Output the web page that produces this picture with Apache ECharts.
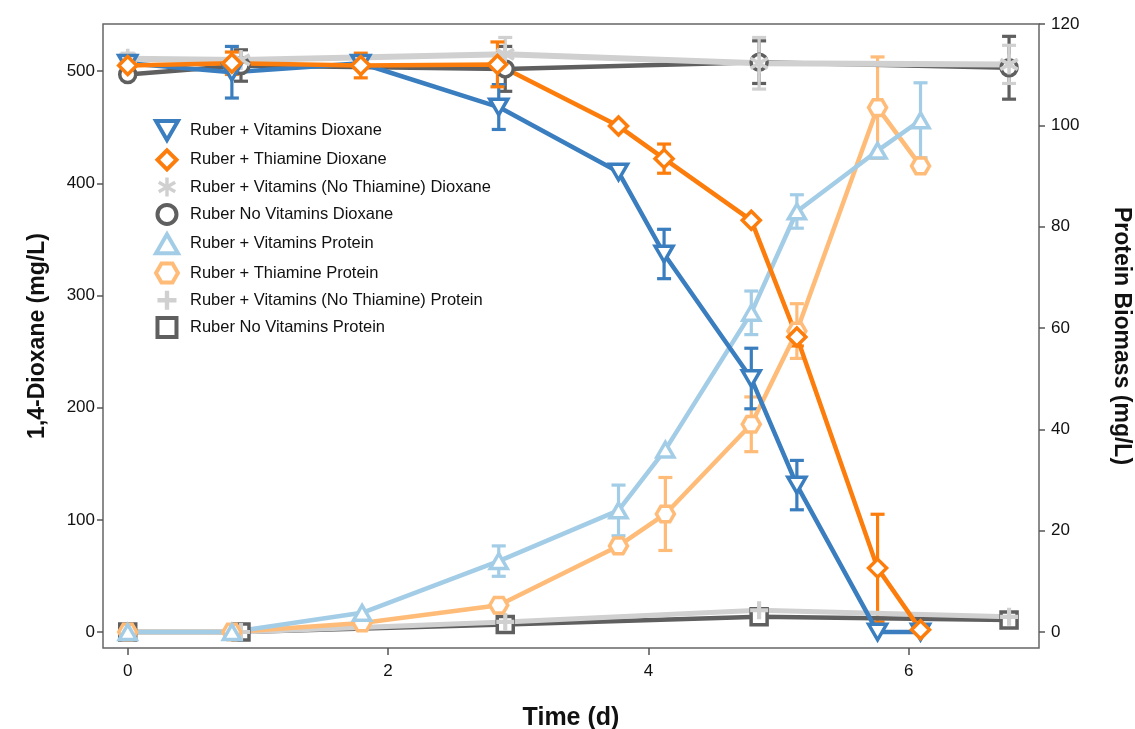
<!DOCTYPE html>
<html><head><meta charset="utf-8">
<script src="https://cdn.jsdelivr.net/npm/echarts@6/dist/echarts.min.js"></script>
<style>html,body{margin:0;padding:0;background:#fff}#c{width:1135px;height:729px}</style>
</head><body><div id="c"></div><script>
// ---- data ----
const names = [
  'Ruber + Vitamins Dioxane',
  'Ruber + Thiamine Dioxane',
  'Ruber + Vitamins (No Thiamine) Dioxane',
  'Ruber No Vitamins Dioxane',
  'Ruber + Vitamins Protein',
  'Ruber + Thiamine Protein',
  'Ruber + Vitamins (No Thiamine) Protein',
  'Ruber No Vitamins Protein'
];
const tVitDiox = [0, 0.8, 1.79, 2.85, 3.77, 4.12, 4.79, 5.14, 5.76, 6.09];
const vVitDiox = [507, 499, 507, 468, 410, 337, 226, 131, 0, 0];
const eVitDiox = [0, 23, 0, 20, 0, 22, 27, 22, 0, 0];

const tThiDiox = [0, 0.8, 1.79, 2.84, 3.77, 4.12, 4.79, 5.14, 5.76, 6.09];
const vThiDiox = [505, 507, 505, 506, 451, 422, 367, 263, 57, 2];
const eThiDiox = [4, 10, 11, 20, 0, 13, 0, 8, 48, 0];

const tNoThiDiox = [0, 0.87, 2.9, 4.85, 6.77];
const vNoThiDiox = [511, 510, 515, 507, 506];
const eNoThiDiox = [5, 0, 15, 23, 17];

const tNoVitDiox = [0, 0.87, 2.9, 4.85, 6.77];
const vNoVitDiox = [497, 505, 502, 508, 503];
const eNoVitDiox = [0, 14, 20, 19, 28];

const tVitProt = [0, 0.8, 1.8, 2.85, 3.77, 4.13, 4.79, 5.14, 5.76, 6.09];
const vVitProt = [0, 0, 3.8, 14, 24, 36, 63, 83, 95, 101];
const eVitProt = [0, 0, 0, 3, 5, 0, 4.3, 3.3, 0, 7.4];

const tThiProt = [0, 0.8, 1.8, 2.85, 3.77, 4.13, 4.79, 5.14, 5.76, 6.09];
const vThiProt = [0, 0, 1.8, 5.3, 17, 23.3, 41, 59.4, 103.5, 92];
const eThiProt = [0, 0, 0, 0, 0, 7.2, 5.4, 5.4, 10, 0];

const tNoThiProt = [0, 0.87, 2.9, 4.85, 6.77];
const vNoThiProt = [0, 0, 2, 4.3, 3];

const tNoVitProt = [0, 0.87, 2.9, 4.85, 6.77];
const vNoVitProt = [0, 0, 1.5, 3, 2.4];

const xTicks = [0, 2, 4, 6];
const yLeftTicks = [0, 100, 200, 300, 400, 500];
const yRightTicks = [0, 20, 40, 60, 80, 100, 120];

// ---- styles ----
const C = {
  blue: '#3a7ebf', orange: '#fc7d0b', lgray: '#d0d0d0', dgray: '#5f5f5f',
  lblue: '#a3cde6', lorange: '#ffbc79'
};
const SYM = {
  invTri: 'path://M0,0L20,0L10,17.3Z',
  tri: 'path://M10,0L20,17.3L0,17.3Z',
  diamond: 'path://M10,0L20,10L10,20L0,10Z',
  hex: 'path://M5,0L15,0L20,8.66L15,17.32L5,17.32L0,8.66Z',
  circle: 'circle',
  square: 'path://M0,0L20,0L20,20L0,20Z',
  aster: 'path://M8.2,20L11.8,20L11.8,0L8.2,0ZM17.76,16.56L19.56,13.44L2.24,3.44L0.44,6.56ZM0.44,13.44L2.24,16.56L19.56,6.56L17.76,3.44Z',
  plus: 'path://M7.7,0H12.3V7.7H20V12.3H12.3V20H7.7V12.3H0V7.7H7.7Z'
};
const FONT = 'Liberation Sans, Arial, sans-serif';

function pairs(t, v) { return t.map((x, i) => [x, v[i]]); }
function errData(t, v, e) { return t.map((x, i) => [x, v[i], e[i]]).filter(d => d[2] > 0); }

function lineSeries(name, t, v, color, sym, size, yIdx, filled, lw) {
  return {
    type: 'line', name, data: pairs(t, v), yAxisIndex: yIdx,
    symbol: sym, symbolSize: size, symbolKeepAspect: true, showAllSymbol: true,
    lineStyle: { color, width: lw || 4.5 },
    itemStyle: filled ? { color, borderWidth: 0 } : { color: '#fff', borderColor: color, borderWidth: 3.5 },
    emphasis: { disabled: true }, animation: false, z: 3
  };
}
function errSeries(t, v, e, color, yIdx) {
  return {
    type: 'custom', yAxisIndex: yIdx, data: errData(t, v, e), animation: false, z: 2, silent: true,
    renderItem(params, api) {
      const x = api.value(0), y = api.value(1), er = api.value(2);
      const a = api.coord([x, y + er]), b = api.coord([x, y - er]);
      const cw = 7, st = { stroke: color, lineWidth: 3.2 };
      return { type: 'group', children: [
        { type: 'line', shape: { x1: a[0], y1: a[1], x2: b[0], y2: b[1] }, style: st },
        { type: 'line', shape: { x1: a[0] - cw, y1: a[1], x2: a[0] + cw, y2: a[1] }, style: st },
        { type: 'line', shape: { x1: b[0] - cw, y1: b[1], x2: b[0] + cw, y2: b[1] }, style: st }
      ]};
    }
  };
}

const series = [
  // protein (right axis)
  lineSeries(names[7], tNoVitProt, vNoVitProt, C.dgray, SYM.square, 16, 1, false),
  lineSeries(names[6], tNoThiProt, vNoThiProt, C.lgray, SYM.plus, 18, 1, true, 5),
  errSeries(tThiProt, vThiProt, eThiProt, C.lorange, 1),
  lineSeries(names[5], tThiProt, vThiProt, C.lorange, SYM.hex, 18, 1, false),
  errSeries(tVitProt, vVitProt, eVitProt, C.lblue, 1),
  lineSeries(names[4], tVitProt, vVitProt, C.lblue, SYM.tri, 17, 1, false),
  // dioxane (left axis)
  errSeries(tNoVitDiox, vNoVitDiox, eNoVitDiox, C.dgray, 0),
  lineSeries(names[3], tNoVitDiox, vNoVitDiox, C.dgray, SYM.circle, 16, 0, false),
  errSeries(tNoThiDiox, vNoThiDiox, eNoThiDiox, C.lgray, 0),
  lineSeries(names[2], tNoThiDiox, vNoThiDiox, C.lgray, SYM.aster, 20, 0, true, 6),
  errSeries(tVitDiox, vVitDiox, eVitDiox, C.blue, 0),
  lineSeries(names[0], tVitDiox, vVitDiox, C.blue, SYM.invTri, 18, 0, false),
  errSeries(tThiDiox, vThiDiox, eThiDiox, C.orange, 0),
  lineSeries(names[1], tThiDiox, vThiDiox, C.orange, SYM.diamond, 18, 0, false)
];

const legendDefs = [
  [names[0], SYM.invTri, C.blue, false],
  [names[1], SYM.diamond, C.orange, false],
  [names[2], SYM.aster, C.lgray, true],
  [names[3], SYM.circle, C.dgray, false],
  [names[4], SYM.tri, C.lblue, false],
  [names[5], SYM.hex, C.lorange, false],
  [names[6], SYM.plus, C.lgray, true],
  [names[7], SYM.square, C.dgray, false]
];

const axisTickStyle = { color: '#555', width: 1.5 };
const option = {
  backgroundColor: '#fff',
  animation: false,
  grid: { left: 103, right: 96, top: 24, bottom: 81, show: true, borderColor: '#666', borderWidth: 1.5,
          containLabel: false, outerBoundsMode: 'none' },
  legend: {
    orient: 'vertical', left: 154, top: 119, padding: 0,
    itemWidth: 36, itemHeight: 19, itemGap: 6.3, selectedMode: false,
    textStyle: { fontFamily: FONT, fontSize: 16.5, lineHeight: 19, color: '#111' },
    data: legendDefs.map(d => ({
      name: d[0], icon: d[1],
      itemStyle: d[3] ? { color: d[2], borderWidth: 0 } : { color: '#fff', borderColor: d[2], borderWidth: 4 }
    }))
  },
  xAxis: {
    type: 'value', min: -0.19, max: 7.0,
    axisLine: { show: false, onZero: false },
    axisTick: { show: true, length: 7, lineStyle: axisTickStyle, customValues: xTicks },
    axisLabel: { customValues: xTicks, fontFamily: FONT, fontSize: 17, color: '#111', margin: 15 },
    splitLine: { show: false },
    name: 'Time (d)', nameLocation: 'middle', nameGap: 58,
    nameTextStyle: { fontFamily: FONT, fontSize: 25, fontWeight: 'bold', color: '#111' }
  },
  yAxis: [{
    type: 'value', min: -14.2, max: 542, position: 'left',
    axisLine: { show: false, onZero: false },
    axisTick: { show: true, length: 6, lineStyle: axisTickStyle, customValues: yLeftTicks },
    axisLabel: { customValues: yLeftTicks, fontFamily: FONT, fontSize: 17, color: '#111', margin: 8 },
    splitLine: { show: false },
    name: '1,4-Dioxane (mg/L)', nameLocation: 'middle', nameGap: 54, nameRotate: 90,
    nameTextStyle: { fontFamily: FONT, fontSize: 23, fontWeight: 'bold', color: '#111' }
  }, {
    type: 'value', min: -3.15, max: 120, position: 'right',
    axisLine: { show: false, onZero: false },
    axisTick: { show: true, length: 6, lineStyle: axisTickStyle, customValues: yRightTicks },
    axisLabel: { customValues: yRightTicks, fontFamily: FONT, fontSize: 17, color: '#111', margin: 12 },
    splitLine: { show: false },
    name: 'Protein Biomass (mg/L)', nameLocation: 'middle', nameGap: 71, nameRotate: -90,
    nameTextStyle: { fontFamily: FONT, fontSize: 23, fontWeight: 'bold', color: '#111' }
  }],
  series
};
const chart = echarts.init(document.getElementById('c'), null, { renderer: 'canvas' });
chart.setOption(option);
</script></body></html>
